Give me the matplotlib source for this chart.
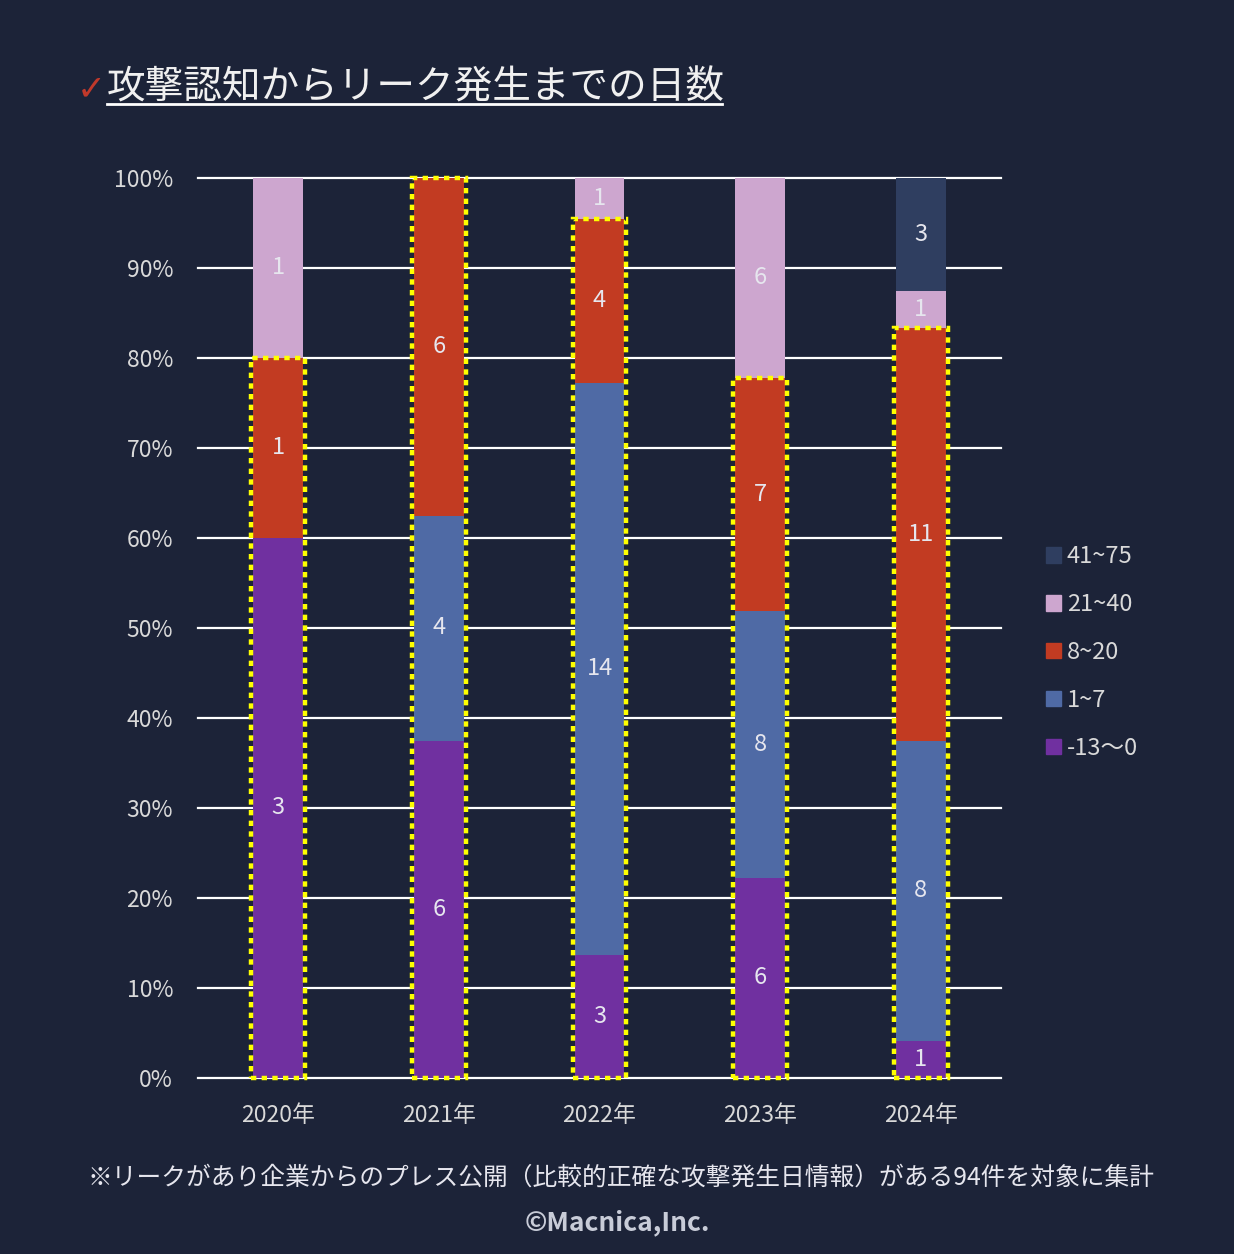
import matplotlib
matplotlib.use("Agg")
import matplotlib.pyplot as plt
from matplotlib.patches import Rectangle
from matplotlib.lines import Line2D
import numpy as np

plt.rcParams['font.family'] = ['Noto Sans CJK JP', 'DejaVu Sans']

years = ["2020年", "2021年", "2022年", "2023年", "2024年"]
series_names = ["-13〜0", "1~7", "8~20", "21~40", "41~75"]
s_m13_0 = [3, 6, 3, 6, 1]
s_1_7 = [0, 4, 14, 8, 8]
s_8_20 = [1, 6, 4, 7, 11]
s_21_40 = [1, 0, 1, 6, 1]
s_41_75 = [0, 0, 0, 0, 3]
colors = ["#7030A0", "#4F6AA5", "#C23B22", "#CDA6CF", "#2F3E60"]

title = "攻撃認知からリーク発生までの日数"
footnote = "※リークがあり企業からのプレス公開（比較的正確な攻撃発生日情報）がある94件を対象に集計"
copyright_text = "©Macnica,Inc."

BG = "#1C2338"
TXT = "#D9D9D9"

counts = np.array([s_m13_0, s_1_7, s_8_20, s_21_40, s_41_75], dtype=float)
totals = counts.sum(axis=0)
pct = counts / totals * 100

fig = plt.figure(figsize=(12.34, 12.54), dpi=100, facecolor=BG)
ax = fig.add_axes([198/1234, 1 - 1078/1254, 803/1234, 900/1254])
ax.set_facecolor(BG)

x = np.arange(len(years))
width = 0.31
bottom = np.zeros(len(years))
for i, name in enumerate(series_names):
    ax.bar(x, pct[i], width, bottom=bottom, color=colors[i], label=name, zorder=3)
    for j in range(len(years)):
        if counts[i, j] > 0:
            ax.text(x[j], bottom[j] + pct[i, j] / 2, f"{int(counts[i, j])}",
                    ha="center", va="center", color="#E6E6EE", fontsize=17, zorder=5)
    bottom = bottom + pct[i]

# yellow dotted boxes around -13~20 segments
box_top = pct[0] + pct[1] + pct[2]
bw = 0.335
for j in range(len(years)):
    r = Rectangle((x[j] - bw / 2, 0), bw, box_top[j], fill=False,
                  edgecolor="#FFFF00", linewidth=3.2, linestyle=(0, (1.2, 1.2)),
                  zorder=6, clip_on=False)
    ax.add_patch(r)

ax.set_xlim(-0.5, len(years) - 0.5)
ax.set_ylim(0, 100)
ax.set_yticks(np.arange(0, 101, 10))
ax.set_yticklabels([f"{v}%" for v in range(0, 101, 10)])
ax.set_xticks(x)
ax.set_xticklabels(years)
ax.yaxis.grid(True, color="white", linewidth=1.6, zorder=0)
ax.set_axisbelow(True)
for sp in ax.spines.values():
    sp.set_visible(False)
ax.tick_params(axis="both", length=0, colors=TXT, labelsize=16.5)
ax.tick_params(axis="y", pad=18)
ax.tick_params(axis="x", pad=19)
for gl in ax.get_ygridlines():
    gl.set_clip_on(False)

handles = [Rectangle((0, 0), 1, 1, color=c) for c in colors][::-1]
labels = series_names[::-1]
leg = fig.legend(handles, labels, loc="upper left", bbox_to_anchor=(1037/1234, 1 - 536/1254),
                 frameon=False, fontsize=17, labelcolor=TXT, handlelength=0.62, handleheight=0.62,
                 handletextpad=0.25, labelspacing=1.05, borderaxespad=0)

# title
fig.text(77/1234, 1 - 89/1254, "✓", color="#C0392B", fontsize=25, va="center", ha="left",
         family=['DejaVu Sans'])
fig.text(107/1234, 1 - 88/1254, title, color="#F0F0F0", fontsize=27.8, va="center", ha="left")
fig.add_artist(Line2D([107/1234, 722/1234], [1 - 104/1254, 1 - 104/1254], color="white", linewidth=2))

fig.text(0.5 + 4/1234, 1 - 1178/1254, footnote, color="#E6E6EE", fontsize=17.8, ha="center", va="center")
fig.text(0.5, 1 - 1223/1254, copyright_text, color="#C8CCD8", fontsize=19, ha="center", va="center",
         fontweight="bold")

fig.savefig("out.png", dpi=100, facecolor=BG)
